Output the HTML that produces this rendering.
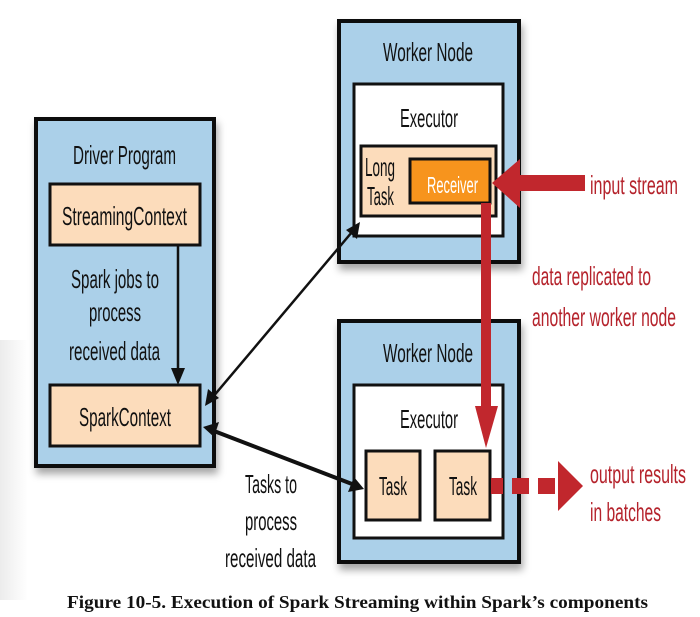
<!DOCTYPE html>
<html><head><meta charset="utf-8"><style>
html,body{margin:0;padding:0;background:#fff;width:700px;height:617px;overflow:hidden}
svg{display:block}
.t{font-family:"Liberation Sans Narrow","Liberation Sans",sans-serif;font-size:26px;fill:#111}
.r{font-family:"Liberation Sans Narrow","Liberation Sans",sans-serif;font-size:26px;fill:#b5232c}
</style></head><body>
<svg width="700" height="617" viewBox="0 0 700 617" xmlns="http://www.w3.org/2000/svg">
<defs>
<linearGradient id="lg" x1="0" x2="1"><stop offset="0" stop-color="#ececec"/><stop offset="1" stop-color="#fff"/></linearGradient>
<filter id="sh" x="-10%" y="-10%" width="130%" height="130%"><feDropShadow dx="2" dy="6" stdDeviation="4" flood-color="#000" flood-opacity="0.35"/></filter>
</defs>
<rect x="0" y="340" width="28" height="260" fill="url(#lg)"/>
<!-- Driver -->
<rect x="36" y="119" width="178" height="347" fill="#abd0e9" stroke="#111" stroke-width="4" filter="url(#sh)"/>
<text class="t" x="73" y="164" textLength="103" lengthAdjust="spacingAndGlyphs">Driver Program</text>
<rect x="50" y="184" width="150" height="61" fill="#fcdcbb" stroke="#111" stroke-width="3"/>
<text class="t" x="62" y="225" textLength="125" lengthAdjust="spacingAndGlyphs">StreamingContext</text>
<text class="t" x="71" y="288" textLength="88" lengthAdjust="spacingAndGlyphs">Spark jobs to</text>
<text class="t" x="89" y="321" textLength="52" lengthAdjust="spacingAndGlyphs">process</text>
<text class="t" x="69" y="360" textLength="91" lengthAdjust="spacingAndGlyphs">received data</text>
<line x1="178" y1="245" x2="178" y2="370" stroke="#111" stroke-width="2.5"/>
<polygon points="171,368 185,368 178,385" fill="#111"/>
<rect x="50" y="385" width="150" height="61" fill="#fcdcbb" stroke="#111" stroke-width="3"/>
<text class="t" x="79" y="426" textLength="92" lengthAdjust="spacingAndGlyphs">SparkContext</text>
<!-- Worker 1 -->
<rect x="339" y="21" width="180" height="241" fill="#abd0e9" stroke="#111" stroke-width="4" filter="url(#sh)"/>
<text class="t" x="383" y="61" textLength="90" lengthAdjust="spacingAndGlyphs">Worker Node</text>
<rect x="354" y="84" width="149" height="152" fill="#fff" stroke="#111" stroke-width="3"/>
<text class="t" x="400" y="127" textLength="58" lengthAdjust="spacingAndGlyphs">Executor</text>
<rect x="361" y="146" width="135" height="70" fill="#fcdcbb" stroke="#111" stroke-width="3"/>
<text class="t" x="365" y="176" font-size="22" textLength="30" lengthAdjust="spacingAndGlyphs">Long</text>
<text class="t" x="367" y="205" font-size="22" textLength="27" lengthAdjust="spacingAndGlyphs">Task</text>
<rect x="410" y="159" width="80" height="44" fill="#f7941d" stroke="#111" stroke-width="3"/>
<text x="427" y="193" font-family="Liberation Sans Narrow,Liberation Sans,sans-serif" font-size="23" fill="#fff" textLength="51" lengthAdjust="spacingAndGlyphs">Receiver</text>
<!-- Worker 2 -->
<rect x="339" y="321" width="180" height="241" fill="#abd0e9" stroke="#111" stroke-width="4" filter="url(#sh)"/>
<text class="t" x="383" y="362" textLength="90" lengthAdjust="spacingAndGlyphs">Worker Node</text>
<rect x="354" y="385" width="149" height="153" fill="#fff" stroke="#111" stroke-width="3"/>
<text class="t" x="400" y="428" textLength="58" lengthAdjust="spacingAndGlyphs">Executor</text>
<rect x="366" y="451" width="54" height="69" fill="#fcdcbb" stroke="#111" stroke-width="3"/>
<text class="t" x="379" y="495" textLength="28" lengthAdjust="spacingAndGlyphs">Task</text>
<rect x="435" y="451" width="55" height="69" fill="#fcdcbb" stroke="#111" stroke-width="3"/>
<text class="t" x="449" y="495" textLength="28" lengthAdjust="spacingAndGlyphs">Task</text>
<!-- black arrows -->
<line x1="212" y1="398" x2="352" y2="232" stroke="#111" stroke-width="2.5"/>
<polygon points="205,406 208,389 219,398" fill="#111"/>
<polygon points="360,222 346,230 357,239" fill="#111"/>
<line x1="214" y1="431" x2="352" y2="484" stroke="#111" stroke-width="4"/>
<polygon points="203,427 219,422 214,437" fill="#111"/>
<polygon points="364,489 348,492 354,477" fill="#111"/>
<text class="t" x="245" y="493" textLength="52" lengthAdjust="spacingAndGlyphs">Tasks to</text>
<text class="t" x="245" y="530" textLength="52" lengthAdjust="spacingAndGlyphs">process</text>
<text class="t" x="225" y="567" textLength="91" lengthAdjust="spacingAndGlyphs">received data</text>
<!-- red arrows -->
<rect x="516" y="175" width="69" height="16" fill="#c1272d"/>
<polygon points="492,183 520,159 520,208" fill="#c1272d"/>
<rect x="481" y="203" width="10" height="205" fill="#c1272d"/>
<polygon points="475,406 498,406 486,448" fill="#c1272d"/>
<rect x="491" y="478" width="12" height="16" fill="#c1272d"/>
<rect x="512" y="478" width="17" height="16" fill="#c1272d"/>
<rect x="538" y="478" width="17" height="16" fill="#c1272d"/>
<polygon points="558,461 583,486 558,511" fill="#c1272d"/>
<text class="r" x="590" y="194" textLength="88" lengthAdjust="spacingAndGlyphs">input stream</text>
<text class="r" x="532" y="285" textLength="119" lengthAdjust="spacingAndGlyphs">data replicated to</text>
<text class="r" x="532" y="326" textLength="144" lengthAdjust="spacingAndGlyphs">another worker node</text>
<text class="r" x="590" y="483" textLength="96" lengthAdjust="spacingAndGlyphs">output results</text>
<text class="r" x="590" y="521" textLength="71" lengthAdjust="spacingAndGlyphs">in batches</text>
<text x="67" y="608" font-family="Liberation Serif,serif" font-weight="bold" font-size="18" fill="#111" textLength="581" lengthAdjust="spacingAndGlyphs">Figure 10-5. Execution of Spark Streaming within Spark’s components</text>
</svg>
</body></html>
